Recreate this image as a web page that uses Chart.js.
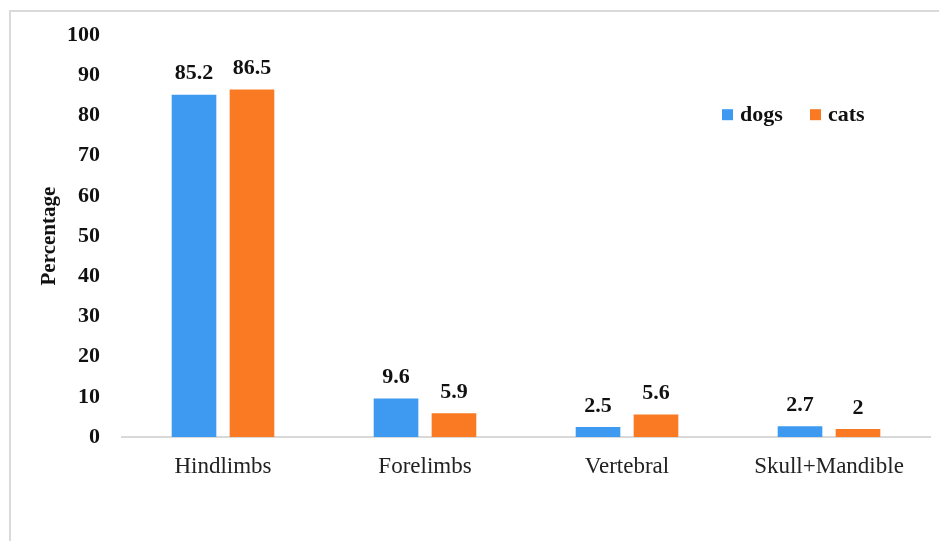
<!DOCTYPE html>
<html>
<head>
<meta charset="utf-8">
<script src="https://cdn.jsdelivr.net/npm/chart.js@4.4.1/dist/chart.umd.min.js"></script>
<style>
  html, body { margin: 0; padding: 0; background: #fff; }
  #wrap { position: relative; width: 939px; height: 541px; overflow: hidden; }
  #frame {
    position: absolute; left: 9px; top: 10px; width: 960px; height: 560px;
    border-left: 2px solid #dadada; border-top: 2px solid #dadada;
    box-sizing: border-box;
  }
  canvas { position: absolute; left: 0; top: 0; }
</style>
</head>
<body>
<div id="wrap">
  <div id="frame"></div>
  <canvas id="fractureChart" width="939" height="541"></canvas>
</div>
<script>
const categories = ['Hindlimbs', 'Forelimbs', 'Vertebral', 'Skull+Mandible']
const dogs = [85.2, 9.6, 2.5, 2.7]
const cats = [86.5, 5.9, 5.6, 2]
const yTicks = [0, 10, 20, 30, 40, 50, 60, 70, 80, 90, 100]

const serif = '"Liberation Serif", "Times New Roman", serif'

// value labels above each bar
const barLabels = {
    id: 'barLabels',
    afterDatasetsDraw(chart) {
        const ctx = chart.ctx
        ctx.save()
        ctx.font = 'bold 22px ' + serif
        ctx.fillStyle = '#111'
        ctx.textAlign = 'center'
        ctx.textBaseline = 'bottom'
        chart.data.datasets.forEach((ds, i) => {
            chart.getDatasetMeta(i).data.forEach((bar, j) => {
                ctx.fillText(String(ds.data[j]), bar.x, bar.y - 10)
            })
        })
        ctx.restore()
    }
}

// small legend in the upper right of the plot
const cornerLegend = {
    id: 'cornerLegend',
    afterDraw(chart) {
        const ctx = chart.ctx
        const area = chart.chartArea
        let x = area.right - 208
        const y = area.top + 80
        ctx.save()
        ctx.font = 'bold 22px ' + serif
        ctx.textBaseline = 'middle'
        chart.data.datasets.forEach(ds => {
            ctx.fillStyle = ds.backgroundColor
            ctx.fillRect(x, y - 6, 11, 11)
            ctx.fillStyle = '#111'
            ctx.fillText(ds.label, x + 18, y)
            x += 88
        })
        ctx.restore()
    }
}

new Chart(document.getElementById('fractureChart'), {
    type: 'bar',
    data: {
        labels: categories,
        datasets: [
            { label: 'dogs', data: dogs, backgroundColor: '#3d9af0' },
            { label: 'cats', data: cats, backgroundColor: '#f97a22' }
        ]
    },
    options: {
        responsive: false,
        animation: false,
        devicePixelRatio: 1,
        layout: { padding: { left: 37, right: 9, top: 29, bottom: 0 } },
        datasets: {
            bar: { categoryPercentage: 0.574, barPercentage: 0.77 }
        },
        plugins: {
            legend: { display: false },
            tooltip: { enabled: false }
        },
        scales: {
            x: {
                grid: { display: false, drawTicks: false },
                border: { display: true, color: '#d9d9d9', width: 2 },
                ticks: {
                    color: '#222',
                    font: { family: serif, size: 23 },
                    padding: 16
                },
                afterFit(scale) { scale.height = 104 }
            },
            y: {
                min: 0,
                max: 100,
                grid: { display: false, drawTicks: false },
                border: { display: false },
                afterBuildTicks(scale) {
                    scale.ticks = yTicks.map(v => ({ value: v }))
                },
                ticks: {
                    color: '#111',
                    font: { family: serif, size: 22, weight: 'bold' },
                    padding: 22
                },
                title: {
                    display: true,
                    text: 'Percentage',
                    color: '#111',
                    font: { family: serif, size: 21, weight: 'bold' },
                    padding: { top: 0, bottom: 0 }
                },
                afterFit(scale) { scale.width = 85 }
            }
        }
    },
    plugins: [barLabels, cornerLegend]
})
</script>
</body>
</html>
